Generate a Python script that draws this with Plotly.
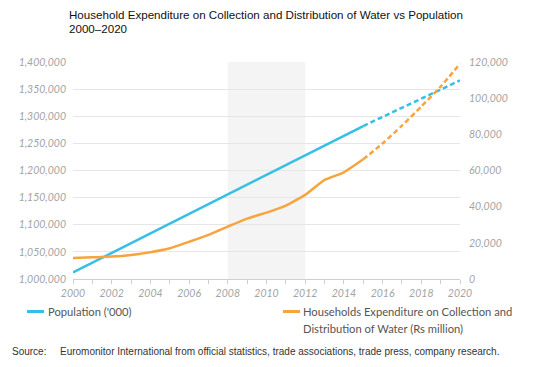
import plotly.graph_objects as go

years_actual = [2000, 2001, 2002, 2003, 2004, 2005, 2006, 2007, 2008, 2009, 2010, 2011, 2012, 2013, 2014, 2015]
years_fc = [2015, 2016, 2017, 2018, 2019, 2020]

population_actual = [1012000, 1030000, 1048000, 1066000, 1084000, 1102000, 1120000, 1138000,
                     1156000, 1174000, 1192000, 1210000, 1228000, 1246000, 1264000, 1282000]
population_fc = [1282000, 1298500, 1315000, 1332000, 1349000, 1366000]

water_actual = [11600, 12000, 12400, 13300, 14800, 17000, 20600, 24400,
                29000, 33400, 36700, 40600, 46500, 54800, 59000, 66200]
water_fc = [66200, 75000, 84800, 95400, 106400, 119000]

shade_years = [2008, 2012]

title_line1 = "Household Expenditure on Collection and Distribution of Water vs Population"
title_line2 = "2000\u20132020"
pop_name = "Population ('000)"
water_line1 = "Households Expenditure on Collection and"
water_line2 = "Distribution of Water (Rs million)"
source_label = "Source:"
source_text = "Euromonitor International from official statistics, trade associations, trade press, company research."

BLUE = "#35bfe6"
ORANGE = "#f8a43e"
TICKC = "#a3a3a3"
GRID = "#e6e6e6"
tick_font = dict(family="Lato", size=10.5, color=TICKC, style="italic")

# figure geometry (page body adds 8px offset)
W, H = 530, 359
L, R, T, B = 65, 78, 54, 88
PW, PH = W - L - R, H - T - B


def px(x):
    return (x - L) / PW


def py(y):
    return (H - B - y) / PH


fig = go.Figure()
fig.add_trace(go.Scatter(x=years_actual, y=population_actual, mode="lines",
                         line=dict(color=BLUE, width=2.5), showlegend=False, yaxis="y"))
fig.add_trace(go.Scatter(x=years_fc, y=population_fc, mode="lines",
                         line=dict(color=BLUE, width=2.5, dash="5px,3px"), showlegend=False, yaxis="y"))
fig.add_trace(go.Scatter(x=years_actual, y=water_actual, mode="lines",
                         line=dict(color=ORANGE, width=2.5, shape="spline", smoothing=0.4), showlegend=False, yaxis="y2"))
fig.add_trace(go.Scatter(x=years_fc, y=water_fc, mode="lines",
                         line=dict(color=ORANGE, width=2.5, dash="5px,3px", shape="spline", smoothing=0.6), showlegend=False, yaxis="y2"))

fig.add_shape(type="rect", xref="x", yref="paper", x0=shade_years[0], x1=shade_years[1], y0=0, y1=1,
              fillcolor="#f4f4f4", line_width=0, layer="below")

# title
title_font = dict(family="Liberation Sans", size=11.6, color="#111111")
fig.add_annotation(xref="paper", yref="paper", x=px(59), y=py(6.5), text=title_line1, showarrow=False,
                   xanchor="left", yanchor="middle", font=title_font)
fig.add_annotation(xref="paper", yref="paper", x=px(59), y=py(20), text=title_line2, showarrow=False,
                   xanchor="left", yanchor="middle", font=title_font)

# manual legend
leg_font = dict(family="Lato", size=11.2, color="#555555")
fig.add_shape(type="line", xref="paper", yref="paper", x0=px(19), x1=px(36), y0=py(303.5), y1=py(303.5),
              line=dict(color=BLUE, width=3))
fig.add_annotation(xref="paper", yref="paper", x=px(37.5), y=py(303.5), text=pop_name, showarrow=False,
                   xanchor="left", yanchor="middle", font=leg_font)
fig.add_shape(type="line", xref="paper", yref="paper", x0=px(275), x1=px(292), y0=py(303.5), y1=py(303.5),
              line=dict(color=ORANGE, width=3))
fig.add_annotation(xref="paper", yref="paper", x=px(293), y=py(303.5), text=water_line1, showarrow=False,
                   xanchor="left", yanchor="middle", font=leg_font)
fig.add_annotation(xref="paper", yref="paper", x=px(293), y=py(320), text=water_line2, showarrow=False,
                   xanchor="left", yanchor="middle", font=leg_font)

# source
src_font = dict(family="Liberation Sans", size=10, color="#333333")
fig.add_annotation(xref="paper", yref="paper", x=px(2), y=py(343.7), text=source_label, showarrow=False,
                   xanchor="left", yanchor="middle", font=src_font)
fig.add_annotation(xref="paper", yref="paper", x=px(49.5), y=py(343.7), text=source_text, showarrow=False,
                   xanchor="left", yanchor="middle", font=src_font)

fig.update_layout(
    width=W, height=H,
    margin=dict(l=L, r=R, t=T, b=B),
    paper_bgcolor="white", plot_bgcolor="white",
    xaxis=dict(range=[2000, 2020], tickmode="array", tickvals=list(range(2000, 2021, 2)),
               showgrid=False, zeroline=False, showline=True, linecolor="#cfcfcf", linewidth=1,
               ticks="outside", ticklen=4, tickcolor="#cfcfcf",
               minor=dict(dtick=1, ticks="outside", ticklen=4, tickcolor="#cfcfcf"),
               tickfont=tick_font, ticklabelstandoff=0),
    yaxis=dict(range=[1000000, 1400000], tickmode="linear", dtick=50000, tickformat=",",
               showgrid=True, gridcolor=GRID, gridwidth=1, zeroline=False, showline=False,
               ticks="", tickfont=tick_font, ticklabelstandoff=6),
    yaxis2=dict(range=[0, 120000], tickmode="linear", dtick=20000, tickformat=",",
                overlaying="y", side="right", showgrid=False, zeroline=False, showline=False,
                ticks="", tickfont=tick_font, ticklabelstandoff=8),
)

fig.write_html("out.html")
